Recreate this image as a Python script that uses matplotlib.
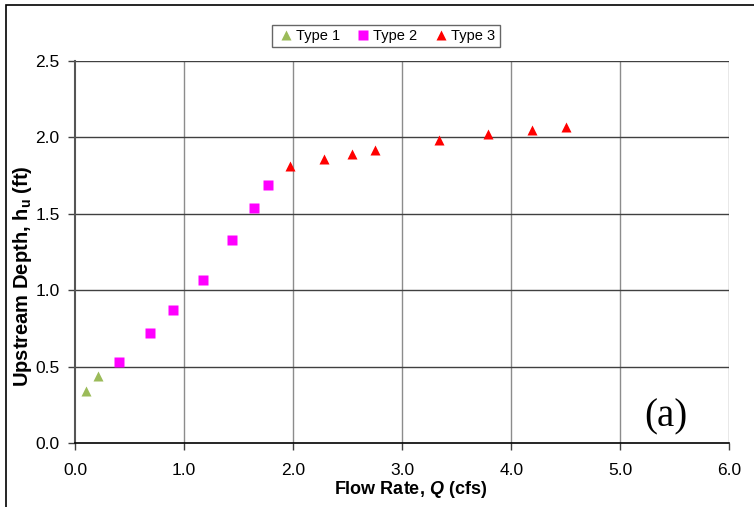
import numpy as np
import matplotlib
matplotlib.use("Agg")
import matplotlib.pyplot as plt
from matplotlib.patches import Rectangle

plt.rcParams['font.family'] = ['Liberation Sans', 'DejaVu Sans']
plt.rcParams['mathtext.fontset'] = 'custom'
plt.rcParams['mathtext.it'] = 'Liberation Sans:bold:italic'
plt.rcParams['mathtext.rm'] = 'Liberation Sans:bold'
plt.rcParams['mathtext.bf'] = 'Liberation Sans:bold'

# flow rate Q (cfs) and upstream depth hu (ft) per flow type
q_type1 = [0.10, 0.21]
h_type1 = [0.34, 0.44]
q_type2 = [0.40, 0.69, 0.90, 1.17, 1.44, 1.64, 1.77]
h_type2 = [0.53, 0.72, 0.87, 1.07, 1.33, 1.54, 1.69]
q_type3 = [1.97, 2.28, 2.54, 2.75, 3.34, 3.79, 4.19, 4.50]
h_type3 = [1.81, 1.86, 1.89, 1.92, 1.98, 2.02, 2.05, 2.07]

xticks = [0, 1, 2, 3, 4, 5, 6]
yticks = [0.0, 0.5, 1.0, 1.5, 2.0, 2.5]

fig = plt.figure(figsize=(7.54, 5.07), dpi=100)
ax = fig.add_axes([0.0995, 0.126, 0.8680, 0.754])

# vertical grid in light grey, horizontal grid dark
for x in xticks[1:]:
    ax.axvline(x, color='#8c8c8c', lw=1.0, zorder=1)
for y in yticks[1:]:
    ax.axhline(y, color='#404040', lw=1.0, zorder=1)

ax.plot(q_type1, h_type1, '^', color='#9bbb59', ms=7.5, mec='none', label='Type 1', zorder=3)
ax.plot(q_type2, h_type2, 's', color='#ff00ff', ms=7, mec='none', label='Type 2', zorder=3)
ax.plot(q_type3, h_type3, '^', color='#ff0000', ms=7.5, mec='none', label='Type 3', zorder=3)

ax.set_xlim(0, 6)
ax.set_ylim(0, 2.5)
ax.set_xticks(xticks)
ax.set_yticks(yticks)
ax.set_xticklabels(['%.1f' % v for v in xticks])
ax.set_yticklabels(['%.1f' % v for v in yticks])
ax.tick_params(labelsize=12.5, length=5, width=1, color='#404040', direction='out')
ax.tick_params(axis='x', pad=9)
ax.tick_params(axis='y', pad=6)

for s in ['top', 'right']:
    ax.spines[s].set_visible(False)
ax.spines['left'].set_color('#555555')
ax.spines['left'].set_linewidth(1.5)
ax.spines['bottom'].set_color('black')
ax.spines['bottom'].set_linewidth(1.2)

fig.text(0.544, 0.034, 'Flow Rate, $Q$ (cfs)', ha='center', va='center',
         fontsize=13, fontweight='bold')
fig.text(0.030, 0.456, 'Upstream Depth, h$_\\mathrm{u}$ (ft)', ha='center', va='center',
         rotation=90, fontsize=14.5, fontweight='bold')

ax.text(5.42, 0.17, '(a)', fontsize=28, family=['Liberation Serif', 'DejaVu Serif'],
        ha='center', va='center')

leg = fig.legend(loc='center', bbox_to_anchor=(0.512, 0.929), ncol=3, fontsize=10.5,
                 frameon=True, fancybox=False, edgecolor='#404040', handletextpad=0.1,
                 columnspacing=1.0, borderpad=0.3, handlelength=1.2, markerscale=1.0)
leg.get_frame().set_linewidth(1.0)

# outer chart frame
fig.patches.append(Rectangle((6 / 754, -0.05), 1.2, 1 - 5 / 507 + 0.05, transform=fig.transFigure,
                             fill=False, edgecolor='black', lw=1.2))

fig.savefig('out.png', dpi=100)
